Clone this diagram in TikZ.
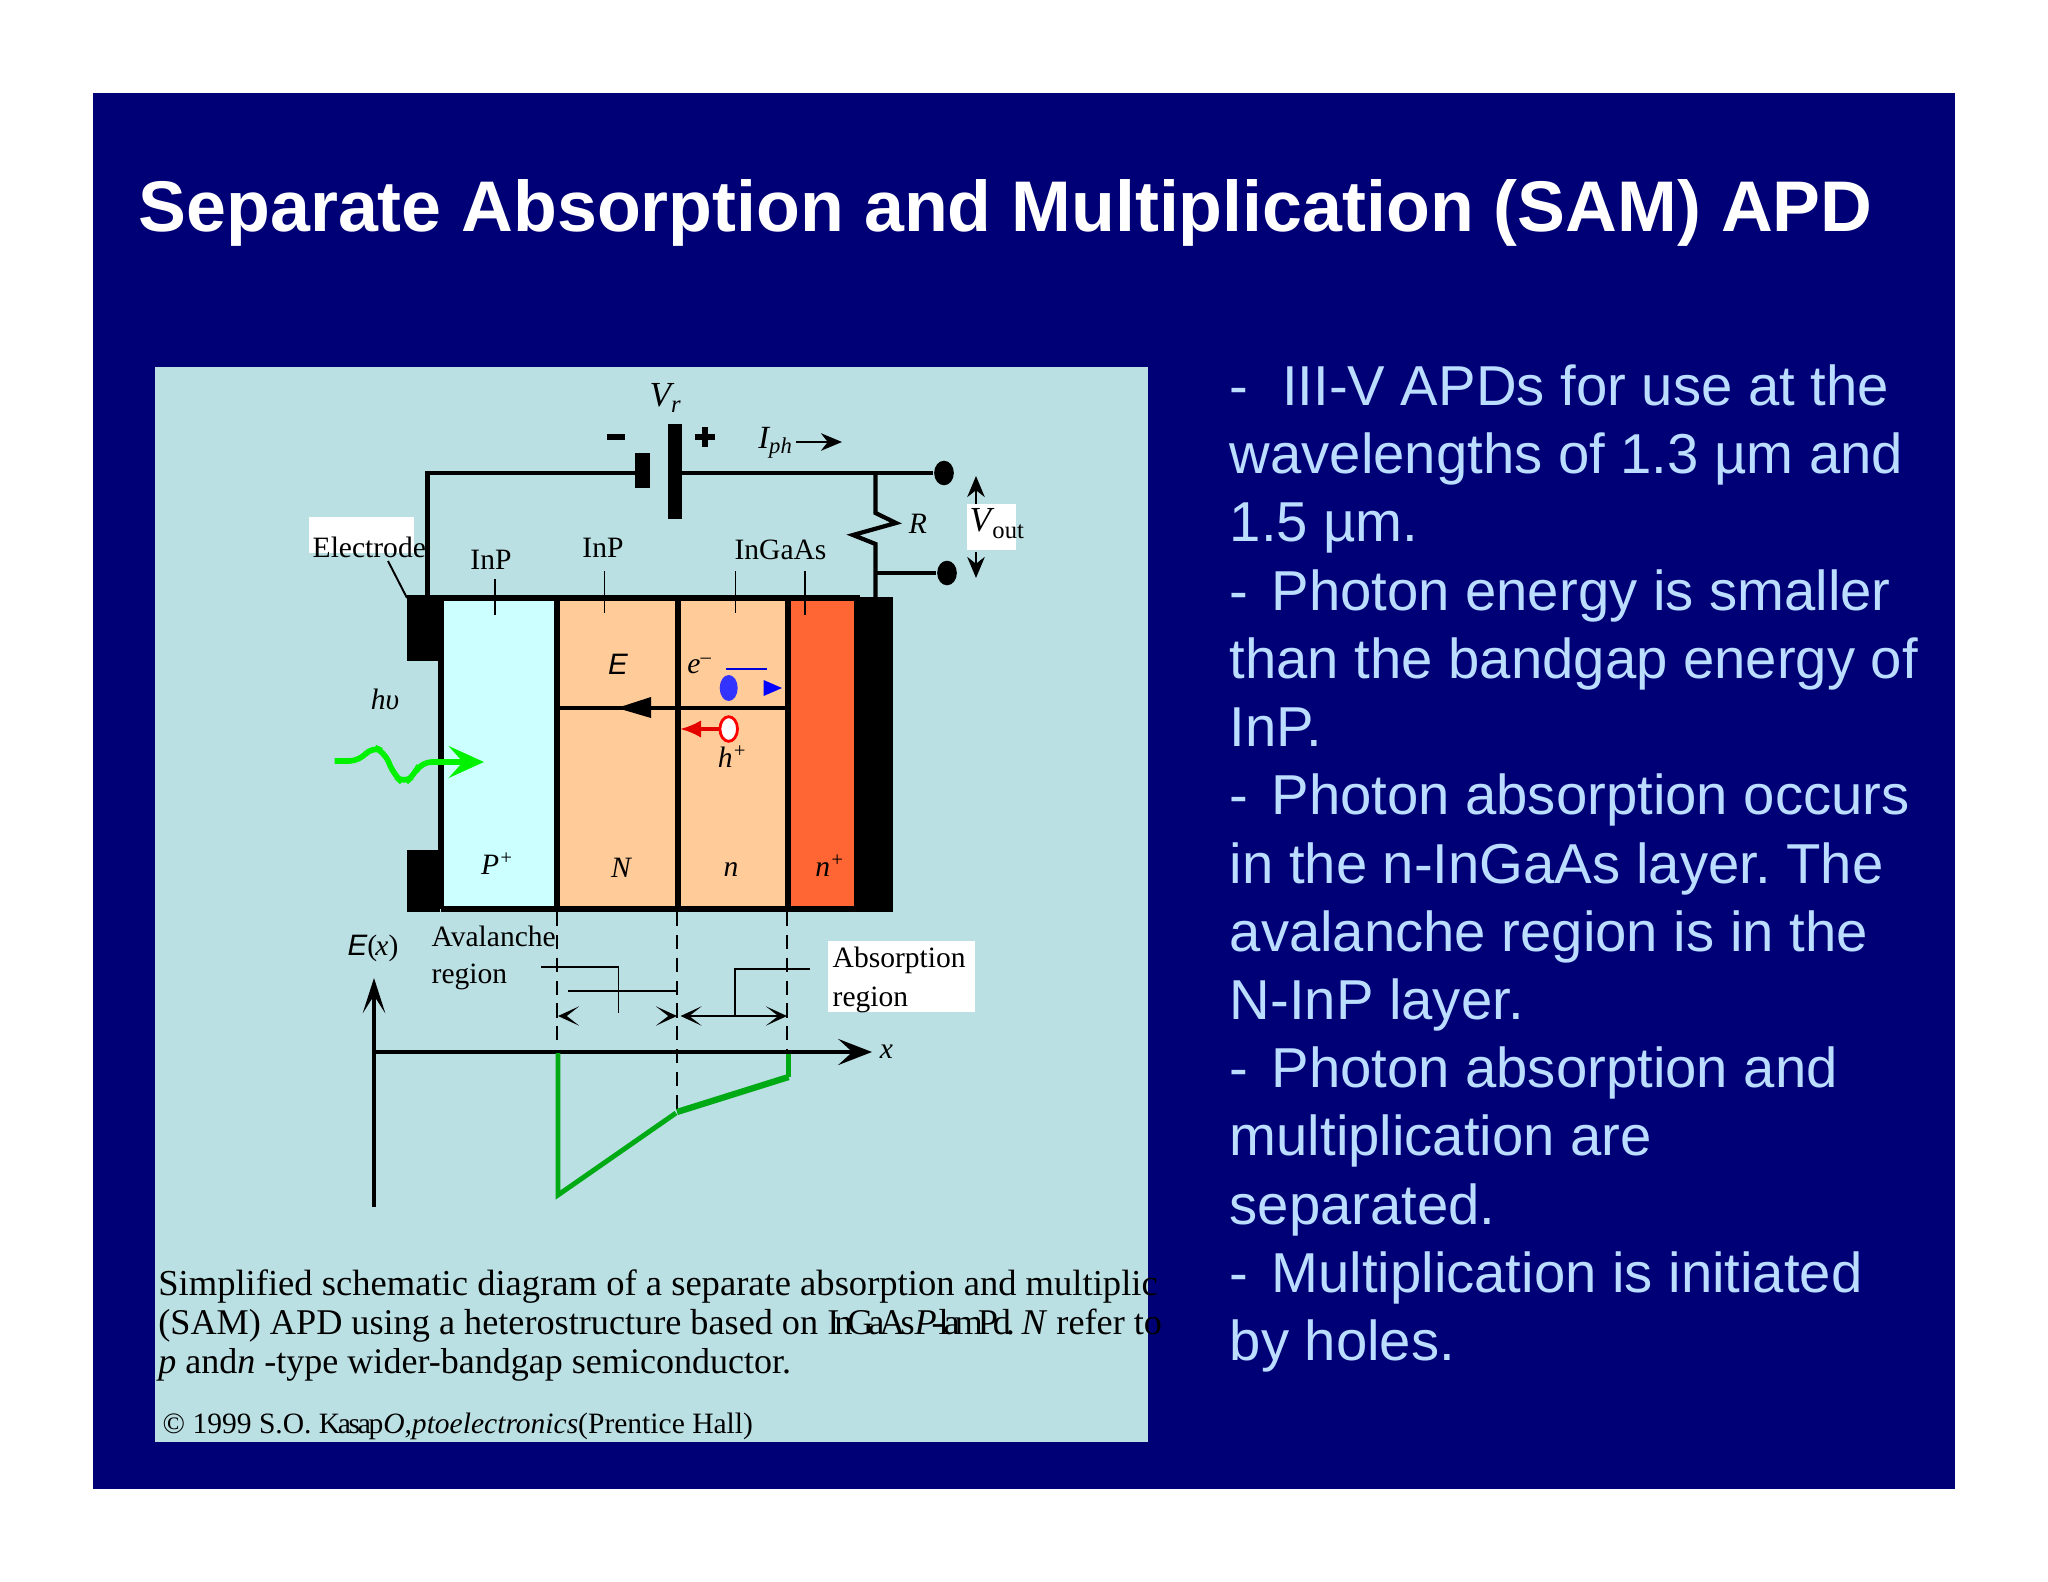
\documentclass[tikz,border=0pt]{standalone}
\usepackage{fontspec}
\usepackage{tikz}
\usetikzlibrary{arrows.meta,shapes.geometric}
\setmainfont{Liberation Serif}
\newfontfamily\arialfont{Liberation Sans}
\definecolor{slidenavy}{RGB}{0,0,118}
\definecolor{panelblue}{RGB}{187,224,227}
\definecolor{bodyblue}{RGB}{187,221,255}
\definecolor{layercyan}{RGB}{204,255,255}
\definecolor{layertan}{RGB}{255,204,153}
\definecolor{layerred}{RGB}{255,102,51}
\definecolor{fieldgreen}{RGB}{0,170,20}
\tikzset{
  wire/.style={line width=1.2pt},
  thinwire/.style={line width=0.55pt},
  wall/.style={line width=1.5pt},
  plate/.style={fill=black},
  termdot/.style={fill=black,ellipse,inner sep=0pt,minimum width=5.6pt,minimum height=7pt},
  dashlink/.style={line width=0.55pt,dash pattern=on 4pt off 2.5pt},
  devlabel/.style={font=\fontsize{8.4}{10}\selectfont,inner sep=0pt},
  devsym/.style={font=\fontsize{8.4}{10}\selectfont\itshape,inner sep=0pt},
  captionline/.style={anchor=west,inner sep=0pt,font=\fontsize{10.4}{12}\selectfont},
  whitebox/.style={fill=white},
  fieldline/.style={fieldgreen,line width=1.4pt},
  openhead/.style={{Stealth[length=6pt,width=5.5pt,inset=3.5pt]}-}
}
\begin{document}
\frenchspacing
\begin{tikzpicture}[x=0.01cm,y=-0.01cm]
  \useasboundingbox (0,0) rectangle (2048,1582);
  \fill[white] (0,0) rectangle (2048,1582);
  \fill[slidenavy] (93,93) rectangle (1955,1489);
  \fill[panelblue] (155,367) rectangle (1148,1442);

  \node[anchor=west,inner sep=0pt,white,font=\arialfont\bfseries\fontsize{20.4}{24}\selectfont] (title) at (138,213) {Separate Absorption and Multiplication (SAM) APD};

  \node[anchor=north west,inner sep=0pt,bodyblue,align=left,font=\arialfont\fontsize{16}{19.4}\selectfont] (bodytext) at (1229,364) {-\hspace{0.6em}III-V APDs for use at the\\
wavelengths of 1.3 µm and\\
1.5 µm.\\
-\hspace{0.41em}Photon energy is smaller\\
than the bandgap energy of\\
InP.\\
-\hspace{0.41em}Photon absorption occurs\\
in the n-InGaAs layer. The\\
avalanche region is in the\\
N-InP layer.\\
-\hspace{0.41em}Photon absorption and\\
multiplication are\\
separated.\\
-\hspace{0.41em}Multiplication is initiated\\
by holes.};

  \fill[whitebox] (309,517) rectangle (414,553);
  \fill[whitebox] (967,504) rectangle (1016,550);
  \fill[whitebox] (828,941) rectangle (975,1012);

  \fill[layercyan] (441,598) rectangle (557,909);
  \fill[layertan] (557,598) rectangle (788,909);
  \fill[layerred] (788,598) rectangle (857,909);
  \fill[plate] (407,597) rectangle (440,661);
  \fill[plate] (407,850) rectangle (440,912);
  \fill[plate] (860,597) rectangle (893,912);
  \draw[wall] (407,598) -- (860,598);
  \draw[wall] (441,909) -- (860,909);
  \draw[wall] (441,598) -- (441,909);
  \draw[wall] (557,598) -- (557,909);
  \draw[wall] (678,598) -- (678,909);
  \draw[wall] (788,598) -- (788,909);
  \draw[wall] (857,598) -- (857,909);

  \node[termdot] (topterm) at (944,473) {};
  \node[termdot] (botterm) at (947,573) {};
  \fill[plate] (635,453) rectangle (650,488);
  \fill[plate] (668,424) rectangle (682,519);
  \coordinate (cellneg) at (635,473);
  \coordinate (cellpos) at (682,473);
  \coordinate (leftdrop) at (427.5,598);
  \coordinate (rightdrop) at (875.5,598);
  \coordinate (resjoin) at (875.5,473);
  \coordinate (resbranch) at (875.5,573);
  \draw[wire] (leftdrop) |- (cellneg);
  \draw[wire] (cellpos) -- (topterm);
  \draw[wire] (resjoin) -- (875.5,513) -- (896,523) -- (853,535) -- (875.5,544) -- (rightdrop);
  \draw[wire] (resbranch) -- (botterm);
  \draw[line width=1.7pt] (607,437) -- (625,437);
  \draw[line width=1.7pt] (695,437) -- (715,437);
  \draw[line width=1.7pt] (705,427) -- (705,447);
  \draw[thinwire,-{Stealth[length=6pt,width=5pt]}] (796,442) -- (842,442);
  \draw[thinwire,{Stealth[length=6pt,width=5pt]}-] (976,476) -- (976,504);
  \draw[thinwire,-{Stealth[length=6pt,width=5pt]}] (976,552) -- (976,578);

  \node[devsym] (vrlabel) at (666,398) {\fontsize{10}{12}\selectfont V\textsubscript{r}};
  \node[devsym] (iphlabel) at (776,443) {\fontsize{9.2}{12}\selectfont I\textsubscript{ph}};
  \node[devsym] (rlabel) at (918,524) {R};
  \node[devlabel,anchor=west] (voutlabel) at (969,524) {\textit{\fontsize{10}{12}\selectfont V}\hspace{-0.6pt}\raisebox{-2pt}{\fontsize{7}{9}\selectfont out}};
  \node[devlabel,anchor=west] (electrodelabel) at (312,547) {Electrode};
  \node[devlabel] (inpa) at (491,560) {InP};
  \node[devlabel] (inpb) at (603,548) {InP};
  \node[devlabel] (ingaas) at (780.5,550) {InGaAs};
  \coordinate (electrodetip) at (407,598);
  \draw[thinwire] (388,561) -- (electrodetip);
  \draw[thinwire] (495,579) -- (495,615);
  \draw[thinwire] (604.5,571) -- (604.5,613);
  \draw[thinwire] (735.5,571) -- (735.5,613);
  \draw[thinwire] (805,571) -- (805,615);

  \node[font=\arialfont\itshape\fontsize{8.4}{10}\selectfont,inner sep=0pt] (fieldlabel) at (618,664) {E};
  \node[devsym] (elabel) at (700,666) {e\textsuperscript{--}};
  \node[devsym] (hlabel) at (733,757) {h\textsuperscript{+}};
  \node[devsym] (hvlabel) at (385,699) {hυ};
  \draw[line width=1.4pt] (788,708) -- (557,708);
  \fill[black] (617,708) -- (651,697) -- (651,718) -- cycle;
  \draw[thinwire,blue!85!black] (726,668.6) -- (767,668.6);
  \fill[blue!80] (728.7,688) ellipse (9 and 13);
  \fill[blue] (782,688) -- (763.6,680) -- (763.6,696) -- cycle;
  \node[ellipse,draw=red,fill=white,line width=0.8pt,minimum width=5pt,minimum height=7pt,inner sep=0pt] (holedot) at (728.7,729) {};
  \draw[red!90!black,line width=1pt,-{Latex[length=6pt,width=5pt]}] (holedot) -- (680,729);

  \draw[green!95!black,line width=1.6pt,rounded corners=3pt,-{Stealth[length=10pt,width=9pt,inset=4pt]}] (334.6,761) -- (360,761) -- (372,746) -- (384.5,752) -- (394,775) -- (404,784) -- (414,775) -- (421,762) -- (484,762);

  \node[devsym] (pplus) at (498,864) {P\textsuperscript{+}};
  \node[devsym] (nbig) at (621,868) {N};
  \node[devsym] (nsmall) at (731,870) {n};
  \node[devsym] (nplus) at (830.5,866) {n\textsuperscript{+}};

  \draw[dashlink] (557,912) -- (557,1047);
  \draw[dashlink] (677,912) -- (677,1112);
  \draw[dashlink] (787,912) -- (787,1077);

  \node[font=\fontsize{8.4}{10}\selectfont,inner sep=0pt] (exlabel) at (373,948) {{\arialfont\itshape E}(\hspace{-0.5pt}\textit{x})};
  \node[devlabel,anchor=west] (avalabel) at (431,936) {Avalanche};
  \node[devlabel,anchor=west] (avblabel) at (431,977) {region};
  \node[devlabel,anchor=west] (abalabel) at (832,960) {Absorption};
  \node[devlabel,anchor=west] (abblabel) at (832,1000) {region};
  \node[devsym] (xlabel) at (886.5,1052) {x};

  \draw[wire,-{Stealth[length=10pt,width=6.4pt,inset=5pt]}] (374,1207) -- (374,978);
  \draw[wire,-{Stealth[length=9.6pt,width=7.4pt,inset=4pt]}] (374,1052) -- (872,1052);

  \draw[fieldline] (558,1053) -- (558,1195) -- (676,1113);
  \draw[fieldline,line width=1.8pt] (677,1112) -- (788.6,1077);
  \draw[fieldline] (788.6,1077) -- (788.6,1054);

  \coordinate (avaleft) at (558,1016);
  \coordinate (avaright) at (677,1016);
  \coordinate (absleft) at (680.5,1016);
  \coordinate (absright) at (787,1016);
  \draw[thinwire] (541,967) -- (618.5,967) -- (618.5,1012.7);
  \draw[thinwire] (567.6,990.7) -- (675.7,990.7);
  \draw[thinwire,openhead] (avaleft) -- ++(6,0);
  \draw[thinwire,openhead] (avaright) -- ++(-6,0);
  \draw[line width=0.8pt,{Stealth[length=6pt,width=5.5pt,inset=3.5pt]}-{Stealth[length=6pt,width=5.5pt,inset=3.5pt]}] (absleft) -- (absright);
  \draw[thinwire] (735,1016) -- (735,969) -- (810,969);

  \node[captionline] (captiona) at (157.6,1286.5) {Simplified schematic diagram of a separate absorption and multiplic};
  \node[captionline,font=\fontsize{10.3}{12}\selectfont] (captionb) at (157.6,1325.5) {(SAM) APD using a heterostructure based on {\addfontfeature{LetterSpace=-14}InGaAs\textit{P}-lamPd.}\hspace{1.9pt}\textit{N} refer to};
  \node[captionline,font=\fontsize{10.25}{12}\selectfont] (captionc) at (157.6,1364.5) {\textit{p} and\textit{n} -type wider-bandgap semiconductor.};
  \node[anchor=west,inner sep=0pt,font=\fontsize{8.4}{10}\selectfont] (copyline) at (162,1426) {© 1999 S.O. {\addfontfeature{LetterSpace=-8}Kasap}\textit{O,ptoelectronics}(Prentice Hall)};
\end{tikzpicture}
\end{document}
